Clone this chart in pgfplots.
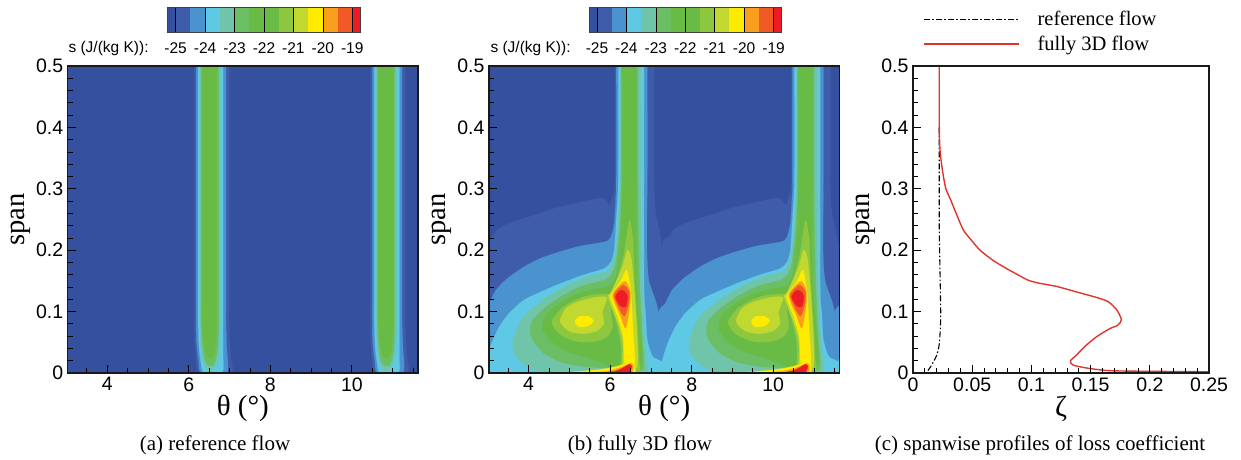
\documentclass[border=0pt]{standalone}
\usepackage{pgfplots}
\usepackage{pgfplotstable}
\usepackage{fontspec}
\pgfplotsset{compat=1.18}
\setmainfont{Liberation Serif}
\newfontfamily\arial{Liberation Sans}
\definecolor{c1}{RGB}{54,80,160}
\definecolor{c2}{RGB}{62,92,170}
\definecolor{c3}{RGB}{74,147,207}
\definecolor{c4}{RGB}{95,200,229}
\definecolor{c5}{RGB}{112,196,169}
\definecolor{c6}{RGB}{107,190,99}
\definecolor{c7}{RGB}{104,188,69}
\definecolor{c9}{RGB}{141,198,63}
\definecolor{c10}{RGB}{192,216,47}
\definecolor{c11}{RGB}{255,235,0}
\definecolor{c12}{RGB}{249,157,28}
\definecolor{c13}{RGB}{241,90,36}
\definecolor{c14}{RGB}{237,28,36}
\definecolor{redcurve}{RGB}{226,52,44}
% panel (a): one wake, theta / span
\pgfplotstableread{
6.13 .52
6.13 .5
6.13 .3
6.13 .13
6.13 .08
6.14 .05
6.18 .02
6.26 0
7.04 0
7.02 .03
6.99 .08
6.99 .13
6.99 .3
6.99 .5
6.99 .52
}\aB
\pgfplotstableread{
6.18 .52
6.18 .5
6.18 .3
6.18 .13
6.18 .08
6.19 .05
6.24 .02
6.31 0
6.93 0
6.93 .04
6.91 .08
6.91 .13
6.91 .3
6.91 .5
6.91 .52
}\aC
\pgfplotstableread{
6.23 .52
6.23 .5
6.23 .3
6.23 .13
6.23 .08
6.25 .045
6.29 .02
6.37 0
6.82 0
6.84 .03
6.84 .08
6.84 .13
6.84 .3
6.84 .5
6.84 .52
}\aD
\pgfplotstableread{
6.28 .52
6.28 .5
6.28 .3
6.28 .13
6.28 .08
6.30 .04
6.36 .015
6.46 .004
6.56 .004
6.68 .015
6.75 .04
6.77 .08
6.77 .13
6.77 .3
6.77 .5
6.77 .52
}\aE
\pgfplotstableread{
6.30 .52
6.30 .5
6.30 .3
6.30 .13
6.30 .08
6.33 .045
6.39 .022
6.48 .012
6.59 .012
6.66 .022
6.71 .045
6.73 .08
6.73 .13
6.73 .3
6.73 .5
6.73 .52
}\aF
\pgfplotstableread{
6.33 .52
6.33 .5
6.33 .3
6.33 .13
6.33 .09
6.36 .055
6.42 .033
6.50 .024
6.57 .024
6.63 .033
6.67 .055
6.69 .09
6.69 .13
6.69 .3
6.69 .5
6.69 .52
}\aG
% panel (b): one pitch
\pgfplotstableread{
10.44 .52
11.40 .52
11.40 .5
11.40 .314
11.44 .26
11.59 .2
11.59 0
11.59 -.03
7.26 -.03
7.26 0
7.26 .2
7.44 .222
7.60 .236
7.97 .247
8.46 .257
8.95 .268
9.44 .276
10.13 .285
10.30 .274
10.40 .293
10.44 .314
10.44 .5
}\bB
\pgfplotstableread{
10.47 .52
11.23 .52
11.23 .5
11.23 .314
11.22 .206
11.27 .151
11.51 .097
11.51 0
11.51 -.03
7.19 -.03
7.19 0
7.19 .097
7.35 .113
7.52 .135
7.80 .154
8.21 .173
8.62 .187
9.11 .198
9.60 .207
10.21 .214
10.34 .222
10.42 .244
10.46 .287
10.47 .314
10.47 .5
}\bC
\pgfplotstableread{
10.52 .52
11.15 .52
11.15 .5
11.15 .151
11.19 .097
11.23 .054
11.36 .027
11.59 .018
11.59 0
11.59 -.03
7.27 -.03
7.27 0
7.27 .018
7.41 .048
7.60 .075
7.84 .097
8.21 .119
8.62 .132
9.11 .146
9.68 .160
10.17 .170
10.34 .181
10.42 .200
10.48 .260
10.52 .314
10.52 .5
}\bD
\pgfplotstableread{
10.57 .52
11.07 .52
11.07 .5
11.07 .314
11.09 .179
11.15 .070
11.22 .021
11.25 0
11.25 -.01
8.66 -.01
8.66 0
8.29 .010
8.01 .027
7.93 .048
8.09 .081
8.37 .103
8.78 .124
9.27 .143
9.76 .157
10.25 .165
10.35 .176
10.46 .200
10.53 .260
10.57 .314
10.57 .5
}\bE
\pgfplotstableread{
10.59 .52
11.00 .52
11.00 .5
11.00 .314
11.04 .151
11.11 .054
11.15 .021
11.11 .004
10.58 .004
10.25 .008
9.60 .011
9.11 .018
8.70 .032
8.42 .054
8.36 .070
8.42 .086
8.70 .105
9.11 .124
9.60 .141
10.17 .151
10.35 .160
10.46 .179
10.56 .244
10.59 .314
10.59 .5
}\bF
\pgfplotstableread{
10.62 .52
10.96 .52
10.96 .5
10.96 .314
10.97 .151
11.05 .070
11.10 .027
11.03 .005
10.50 .005
10.25 .013
9.68 .027
9.19 .037
8.86 .054
8.66 .073
8.74 .094
9.03 .111
9.44 .127
9.85 .135
10.34 .143
10.50 .168
10.59 .233
10.62 .314
10.62 .5
}\bG
\pgfplotstableread{
8.89 .084
9.13 .105
9.44 .118
9.85 .127
10.30 .127
10.34 .097
10.38 .075
10.25 .059
9.93 .051
9.52 .051
9.19 .059
8.99 .070
}\lobeH
\pgfplotstableread{
9.09 .086
9.23 .105
9.52 .116
9.93 .123
10.24 .123
10.13 .100
10.17 .081
10.01 .069
9.68 .064
9.36 .067
9.18 .075
}\lobeI
\pgfplotstableread{
9.46 .084
9.56 .092
9.80 .092
9.91 .085
9.80 .077
9.56 .075
}\lobeJ
\pgfplotstableread{
10.79 .249
10.66 .195
10.48 .151
10.30 .124
10.46 .086
10.58 .048
10.58 .016
10.50 .004
11.03 .004
11.03 .021
11.00 .070
10.92 .151
10.88 .217
}\wakeH
\pgfplotstableread{
10.74 .200
10.62 .173
10.34 .130
10.27 .124
10.54 .075
10.64 .043
10.64 .010
10.99 .010
10.95 .097
10.88 .162
10.83 .190
}\wakeI
\pgfplotstableread{
10.72 .168
10.58 .149
10.38 .132
10.32 .124
10.50 .092
10.64 .059
10.68 .016
10.92 .016
10.88 .070
10.84 .124
10.79 .151
}\wakeJ
\pgfplotstableread{
10.66 .149
10.38 .127
10.58 .092
10.70 .073
10.79 .103
10.82 .130
10.76 .143
}\wakeK
\pgfplotstableread{
10.64 .143
10.42 .127
10.58 .100
10.68 .093
10.77 .111
10.79 .132
}\wakeL
\pgfplotstableread{
10.58 .135
10.45 .124
10.58 .109
10.70 .108
10.75 .124
10.69 .132
}\wakeM
\pgfplotstableread{
8.70 0
9.44 .002
10.09 .006
10.50 .011
10.83 .018
10.92 .013
10.94 0
}\footJ
\pgfplotstableread{
9.68 0
10.25 .003
10.58 .009
10.83 .016
10.89 .011
10.87 0
}\footK
\pgfplotstableread{
10.17 0
10.50 .004
10.79 .014
10.85 .010
10.79 0
}\footM
\pgfplotstableread{
.0222 .5
.0222 .401
.0228 .363
.0248 .331
.0276 .301
.0318 .282
.0375 .255
.0425 .233
.0481 .219
.0566 .200
.0679 .183
.0791 .170
.0876 .161
.0974 .151
.1073 .146
.1213 .141
.1382 .132
.1551 .123
.165 .116
.172 .103
.176 .087
.173 .078
.166 .072
.155 .059
.145 .043
.138 .029
.133 .020
.135 .013
.147 .008
.164 .004
.186 .003
.25 .002
}\redline
\pgfplotstableread{
.0222 .4
.0222 .233
.0234 .097
.0222 .048
.020 .029
.0158 .013
.013 .005
.0115 0
}\blackline
\newcommand{\shifted}[3]{% colour, table, shift
  \addplot[fill=#1,draw=#1,line width=.2pt,smooth,tension=.4] table[x expr=\thisrowno{0}+#3,y index=1]{#2};}
\newcommand{\shiftedc}[3]{% closed smooth outline
  \addplot[fill=#1,draw=#1,line width=.2pt,smooth cycle,tension=.4] table[x expr=\thisrowno{0}+#3,y index=1]{#2};}
\newcommand{\lev}[2]{\shifted{#1}{#2}{-4.32}\shifted{#1}{#2}{0}\shifted{#1}{#2}{4.32}}
\newcommand{\levc}[2]{\shiftedc{#1}{#2}{-4.32}\shiftedc{#1}{#2}{0}\shiftedc{#1}{#2}{4.32}}
\newcommand{\two}[2]{\shifted{#1}{#2}{0}\shifted{#1}{#2}{4.32}}
\newcommand{\rect}[3]{\addplot[fill=#1,draw=none] coordinates {(#2,0) (#3,0) (#3,1) (#2,1)};}
\newcommand{\barbands}{%
\rect{c1}{-25.27}{-25}\rect{c2}{-25}{-24.5}\rect{c3}{-24.5}{-24}\rect{c4}{-24}{-23.5}%
\rect{c5}{-23.5}{-23}\rect{c6}{-23}{-22.5}\rect{c7}{-22.5}{-22}\rect{c7}{-22}{-21.5}%
\rect{c9}{-21.5}{-21}\rect{c10}{-21}{-20.5}\rect{c11}{-20.5}{-20}\rect{c12}{-20}{-19.5}%
\rect{c13}{-19.5}{-19}\rect{c14}{-19}{-18.73}}
\pgfplotsset{
  panel/.style={scale only axis,height=307pt,axis on top,
    axis line style={line width=1.3pt,black!90},
    tick style={black,line width=1pt},
    minor tick style={line width=.8pt},
    tick align=inside,xtick pos=bottom,ytick pos=left,
    major tick length=8pt,minor tick length=5pt,
    ymin=0,ymax=.5,ytick={0,.1,.2,.3,.4,.5},
    minor ytick={0.02,0.04,0.06,0.08,0.12,0.14,0.16,0.18,0.22,0.24,0.26,0.28,0.32,0.34,0.36,0.38,0.42,0.44,0.46,0.48},
    ticklabel style={font=\arial\fontsize{19.5}{20}\selectfont},
    /pgf/number format/assume math mode=true,
    x tick label style={yshift=-1pt},
    y tick label style={xshift=-1pt},
    ylabel={span},
    ylabel style={font=\fontsize{28.5}{30}\selectfont,at={(axis description cs:-0.1247,0.5)},anchor=base},
    every axis x label/.style={at={(axis description cs:0.5,-0.117)},anchor=center},
  },
  theta/.style={panel,width=350.3pt,xmin=3.03,xmax=11.62,xtick={4,6,8,10},
    minor xtick={3.5,4.5,5,5.5,6.5,7,7.5,8.5,9,9.5,10.5,11,11.5},
    xlabel={θ (°)},xlabel style={font=\fontsize{29}{30}\selectfont}},
  cbar/.style={scale only axis,width=192.5pt,height=25pt,axis on top,
    xmin=-25.27,xmax=-18.73,ymin=0,ymax=1,ytick=\empty,
    xtick={-25,-24,-23,-22,-21,-20,-19},
    xticklabels={-25,-24,-23,-22,-21,-20,-19},
    major tick length=0pt,xmajorgrids,
    grid style={black,line width=.6pt},
    axis line style={black!75,line width=.8pt},
    xticklabel style={font=\arial\fontsize{15.5}{17}\selectfont,yshift=-7.5pt}},
}
\begin{document}
\begin{tikzpicture}
\useasboundingbox (0,0) rectangle (1241pt,459pt);
% panel (a)
\begin{axis}[theta,at={(67.7pt,86pt)},anchor=south west,axis background/.style={fill=c1}]
\two{c2}{\aB}\two{c3}{\aC}\two{c4}{\aD}\two{c5}{\aE}\two{c6}{\aF}\two{c7}{\aG}
\end{axis}
% panel (b)
\begin{axis}[theta,at={(489pt,86pt)},anchor=south west,axis background/.style={fill=c1}]
\lev{c2}{\bB}\lev{c3}{\bC}\lev{c4}{\bD}\lev{c5}{\bE}\lev{c6}{\bF}\lev{c7}{\bG}
\levc{c9}{\lobeH}\levc{c10}{\lobeI}\levc{c11}{\lobeJ}
\levc{c9}{\wakeH}\levc{c10}{\wakeI}\levc{c11}{\wakeJ}\levc{c12}{\wakeK}\levc{c13}{\wakeL}\levc{c14}{\wakeM}
\lev{c11}{\footJ}\lev{c12}{\footK}\lev{c14}{\footM}
\end{axis}
% panel (c)
\begin{axis}[panel,width=296pt,at={(913pt,86pt)},anchor=south west,
  xmin=0,xmax=.25,xtick={0,.05,.1,.15,.2,.25},
  xticklabels={0,0.05,0.1,0.15,0.2,0.25},
  minor x tick num=4,
  xlabel={ζ},xlabel style={font=\fontsize{29}{30}\selectfont},
  ylabel style={at={(axis description cs:-0.1476,0.5)}},
  clip=false,
  legend image code/.code={\draw[#1] (0pt,0pt) -- (95pt,0pt);\path (112pt,0pt);},
  legend cell align=left,
  legend style={draw=none,fill=none,at={(10pt,320pt)},anchor=south west,
    font=\fontsize{20.5}{22}\selectfont,row sep=6.5pt,inner sep=0pt,
    nodes={inner sep=1pt}},
  ]
\addplot[black,line width=1.1pt,smooth,tension=.4,dash pattern=on 6pt off 2.2pt on 1.6pt off 2.2pt] table[x index=0,y index=1]{\blackline};
\addplot[redcurve,line width=1.4pt,smooth,tension=.4] table[x index=0,y index=1]{\redline};
\legend{reference flow,fully 3D flow}
\end{axis}
% colour bars
\begin{axis}[cbar,at={(167.7pt,427pt)},anchor=south west]
\barbands
\end{axis}
\begin{axis}[cbar,at={(589pt,427pt)},anchor=south west]
\barbands
\end{axis}
\node[font=\arial\fontsize{15.5}{17}\selectfont,anchor=west] at (65pt,411pt) {s (J/(kg K)):};
\node[font=\arial\fontsize{15.5}{17}\selectfont,anchor=west] at (487pt,411pt) {s (J/(kg K)):};
\node[font=\fontsize{21}{23}\selectfont] at (215pt,14pt) {(a) reference flow};
\node[font=\fontsize{21}{23}\selectfont] at (640pt,14pt) {(b) fully 3D flow};
\node[font=\fontsize{21}{23}\selectfont] at (1040pt,14pt) {(c) spanwise profiles of loss coefficient};
\end{tikzpicture}
\end{document}
